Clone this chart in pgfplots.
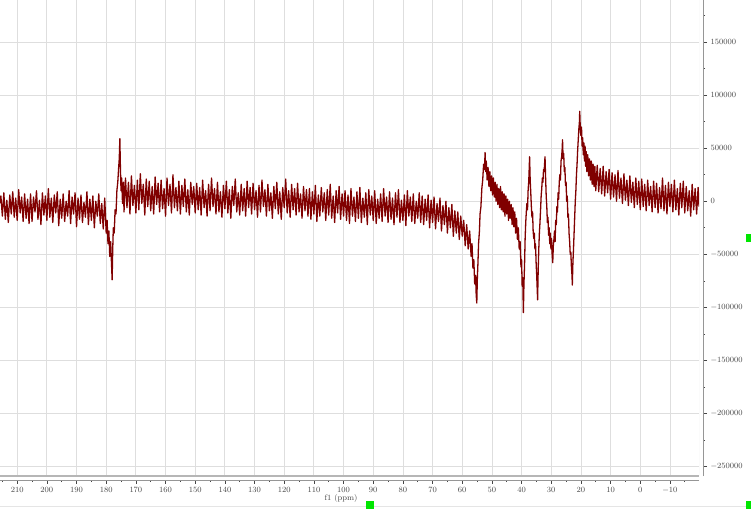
\documentclass[border=0pt]{standalone}
\usepackage{pgfplots}
\pgfplotsset{compat=1.18}
\definecolor{trace}{RGB}{128,0,0}
\definecolor{gridc}{RGB}{222,222,222}
\definecolor{axc}{RGB}{150,150,150}
\definecolor{lbl}{RGB}{70,70,70}
\definecolor{uigreen}{RGB}{0,230,0}
\begin{document}
\begin{tikzpicture}
% plot area with grid
\begin{axis}[at={(0pt,39pt)}, anchor=south west, scale only axis,
  width=699pt, height=476pt,
  xmin=-19.8, xmax=215.8, x dir=reverse, ymin=-259150, ymax=189900,
  xtick={-10,0,...,210}, ytick={-250000,-200000,...,150000},
  grid=major, major grid style={gridc, line width=0.8pt},
  axis line style={draw=none}, tick style={draw=none},
  xticklabels={}, yticklabels={}, scaled y ticks=false]
\addplot[trace, line width=1.3pt, line join=round] coordinates {
(215.8,-2000)(215.5,5000)(215.0,-14000)(214.5,8000)(214.0,-17000)(213.5,1000)(213.0,-20000)(212.5,6000)(212.0,-12000)
(211.5,9000)(211.0,-15000)(210.5,3000)(210.0,-18000)(209.5,11000)(209.0,-11000)(208.5,4000)(208.0,-19000)
(207.5,7000)(207.0,-16000)(206.5,2000)(206.0,-21000)(205.5,7000)(205.0,-19000)(204.5,4000)(204.0,-10000)
(203.5,10000)(203.0,-17000)(202.5,1000)(202.0,-22000)(201.5,8000)(201.0,-13000)(200.5,5000)(200.0,-18000)
(199.5,12000)(199.0,-15000)(198.5,3000)(198.0,-20000)(197.5,6000)(197.0,-11000)(196.5,9000)(196.0,-23000)
(195.5,2000)(195.0,-16000)(194.5,7000)(194.0,-19000)(193.5,0)(193.0,-14000)(192.5,10000)(192.0,-21000)
(191.5,4000)(191.0,-12000)(190.5,8000)(190.0,-24000)(189.5,3000)(189.0,-17000)(188.5,6000)(188.0,-20000)
(187.5,-1000)(187.0,-15000)(186.5,9000)(186.0,-22000)(185.5,2000)(185.0,-18000)(184.5,5000)(184.0,-25000)
(183.5,0)(183.0,-14000)(182.5,7000)(182.0,-21000)(181.5,-2000)(181.0,-26000)(180.5,3000)(180.0,-30000)
(179.7,-18000)(179.4,-40000)(179.1,-28000)(178.8,-52000)(178.5,-38000)(178.2,-60000)(178.0,-74000)
(177.8,-45000)(177.6,-25000)(177.3,-30000)(177.0,-8000)(176.7,-12000)(176.4,10000)(176.1,18000)
(175.8,32000)(175.6,40000)(175.4,59000)(175.2,30000)(175.0,10000)(174.8,22000)(174.5,-2000)(174.2,18000)
(174.0,-10000)(173.5,22000)(173.0,-6000)(172.5,18000)(172.0,-12000)(171.5,24000)(171.0,-4000)(170.5,15000)
(170.0,-11000)(169.5,20000)(169.0,-8000)(168.5,26000)(168.0,-2000)(167.5,16000)(167.0,-13000)(166.5,21000)
(166.0,-5000)(165.5,19000)(165.0,-9000)(164.5,14000)(164.0,-12000)(163.5,23000)(163.0,-3000)(162.5,17000)
(162.0,-10000)(161.5,20000)(161.0,-7000)(160.5,12000)(160.0,-14000)(159.5,22000)(159.0,-4000)(158.5,16000)
(158.0,-11000)(157.5,25000)(157.0,-6000)(156.5,13000)(156.0,-9000)(155.5,19000)(155.0,-12000)(154.5,15000)
(154.0,-5000)(153.5,21000)(153.0,-10000)(152.5,11000)(152.0,-13000)(151.5,18000)(151.0,-3000)(150.5,14000)
(150.0,-11000)(149.5,17000)(149.0,-8000)(148.5,13000)(148.0,-13000)(147.5,20000)(147.0,-6000)(146.5,10000)
(146.0,-14000)(145.5,16000)(145.0,-9000)(144.5,22000)(144.0,-5000)(143.5,12000)(143.0,-12000)(142.5,18000)
(142.0,-10000)(141.5,9000)(141.0,-15000)(140.5,15000)(140.0,-7000)(139.5,19000)(139.0,-11000)(138.5,11000)
(138.0,-16000)(137.5,14000)(137.0,-4000)(136.5,21000)(136.0,-10000)(135.5,8000)(135.0,-13000)(134.5,16000)
(134.0,-9000)(133.5,12000)(133.0,-14000)(132.5,19000)(132.0,-6000)(131.5,13000)(131.0,-12000)(130.5,17000)
(130.0,-8000)(129.5,10000)(129.0,-15000)(128.5,15000)(128.0,-10000)(127.5,20000)(127.0,-5000)(126.5,11000)
(126.0,-14000)(125.5,16000)(125.0,-9000)(124.5,8000)(124.0,-16000)(123.5,14000)(123.0,-7000)(122.5,18000)
(122.0,-12000)(121.5,9000)(121.0,-17000)(120.5,13000)(120.0,-6000)(119.5,21000)(119.0,-11000)(118.5,10000)
(118.0,-15000)(117.5,16000)(117.0,-8000)(116.5,12000)(116.0,-13000)(115.5,17000)(115.0,-10000)(114.5,7000)
(114.0,-16000)(113.5,14000)(113.0,-9000)(112.5,11000)(112.0,-14000)(111.5,12000)(111.0,-17000)(110.5,9000)
(110.0,-12000)(109.5,15000)(109.0,-19000)(108.5,6000)(108.0,-14000)(107.5,13000)(107.0,-10000)(106.5,8000)
(106.0,-18000)(105.5,11000)(105.0,-13000)(104.5,16000)(104.0,-16000)(103.5,5000)(103.0,-20000)(102.5,10000)
(102.0,-11000)(101.5,14000)(101.0,-17000)(100.5,7000)(100.0,-14000)(99.5,10000)(99.0,-18000)(98.5,6000)
(98.0,-21000)(97.5,12000)(97.0,-14000)(96.5,4000)(96.0,-19000)(95.5,9000)(95.0,-16000)(94.5,13000)
(94.0,-20000)(93.5,3000)(93.0,-15000)(92.5,8000)(92.0,-22000)(91.5,11000)(91.0,-13000)(90.5,5000)
(90.0,-18000)(89.5,10000)(89.0,-21000)(88.5,2000)(88.0,-16000)(87.5,7000)(87.0,-19000)(86.5,12000)
(86.0,-14000)(85.5,4000)(85.0,-20000)(84.5,9000)(84.0,-17000)(83.5,3000)(83.0,-22000)(82.5,8000)
(82.0,-15000)(81.5,11000)(81.0,-20000)(80.5,1000)(80.0,-18000)(79.5,6000)(79.0,-23000)(78.5,10000)
(78.0,-14000)(77.5,4000)(77.0,-19000)(76.5,7000)(76.0,-21000)(75.5,0)(75.0,-16000)(74.5,8000)
(74.0,-20000)(73.5,5000)(73.0,-22000)(72.5,2000)(72.0,-18000)(71.5,6000)(71.0,-25000)(70.5,1000)
(70.0,-20000)(69.5,4000)(69.0,-26000)(68.5,-2000)(68.0,-19000)(67.5,3000)(67.0,-28000)(66.5,-4000)
(66.0,-22000)(65.5,0)(65.0,-30000)(64.5,-6000)(64.0,-25000)(63.5,-3000)(63.0,-33000)(62.5,-9000)
(62.0,-30000)(61.5,-10000)(61.0,-36000)(60.5,-14000)(60.0,-33000)(59.5,-18000)(59.0,-42000)(58.5,-22000)
(58.0,-45000)(57.5,-28000)(57.0,-52000)(56.7,-40000)(56.4,-63000)(56.1,-55000)(55.8,-78000)(55.5,-70000)
(55.3,-88000)(55.1,-96000)(54.9,-72000)(54.7,-58000)(54.5,-40000)(54.2,-28000)(54.0,-12000)(53.7,-5000)
(53.4,12000)(53.1,20000)(52.8,35000)(52.5,30000)(52.3,46000)(52.1,28000)(51.9,38000)(51.6,20000)
(51.3,32000)(51.0,14000)(50.7,28000)(50.4,10000)(50.1,24000)(49.8,6000)(49.5,22000)(49.2,4000)
(48.9,18000)(48.6,0)(48.3,16000)(48.0,-3000)(47.7,12000)(47.4,-6000)(47.1,14000)(46.8,-8000)
(46.5,9000)(46.2,-10000)(45.9,7000)(45.6,-14000)(45.3,5000)(45.0,-12000)(44.7,2000)(44.4,-18000)
(44.1,0)(43.8,-16000)(43.5,-3000)(43.2,-22000)(42.9,-6000)(42.6,-24000)(42.3,-10000)(42.0,-30000)
(41.7,-16000)(41.4,-36000)(41.1,-25000)(40.8,-45000)(40.5,-38000)(40.2,-62000)(40.0,-55000)(39.8,-80000)
(39.6,-72000)(39.4,-105000)(39.2,-78000)(39.0,-60000)(38.8,-35000)(38.6,-20000)(38.4,-10000)(38.2,-2000)
(38.0,-8000)(37.8,10000)(37.6,18000)(37.5,25000)(37.3,42000)(37.1,20000)(36.9,8000)(36.7,-5000)
(36.5,-15000)(36.3,-10000)(36.1,-28000)(35.9,-35000)(35.7,-30000)(35.5,-45000)(35.3,-40000)(35.1,-58000)
(34.9,-70000)(34.7,-85000)(34.6,-93000)(34.4,-65000)(34.2,-45000)(34.0,-30000)(33.8,-20000)(33.6,-8000)
(33.4,5000)(33.2,12000)(33.0,22000)(32.8,18000)(32.6,30000)(32.4,28000)(32.1,42000)(31.9,22000)
(31.7,5000)(31.5,-5000)(31.3,-20000)(31.1,-15000)(30.9,-32000)(30.7,-25000)(30.5,-40000)(30.3,-30000)
(30.1,-45000)(29.9,-35000)(29.7,-50000)(29.5,-58000)(29.3,-42000)(29.1,-36000)(28.9,-28000)(28.7,-38000)
(28.5,-18000)(28.3,-22000)(28.1,-5000)(27.9,-10000)(27.7,8000)(27.5,2000)(27.3,18000)(27.1,25000)
(26.9,20000)(26.7,38000)(26.5,42000)(26.3,50000)(26.2,58000)(26.0,40000)(25.8,45000)(25.6,28000)
(25.4,32000)(25.2,15000)(25.0,18000)(24.8,0)(24.6,5000)(24.4,-15000)(24.2,-12000)(24.0,-30000)
(23.8,-38000)(23.6,-50000)(23.4,-48000)(23.2,-62000)(23.0,-70000)(22.9,-79000)(22.7,-58000)(22.5,-45000)
(22.3,-30000)(22.1,-15000)(21.9,0)(21.7,10000)(21.5,25000)(21.3,35000)(21.1,48000)(20.9,58000)
(20.7,68000)(20.5,75000)(20.4,85000)(20.2,68000)(20.0,62000)(19.8,70000)(19.6,52000)(19.4,60000)
(19.2,44000)(19.0,55000)(18.8,38000)(18.6,52000)(18.4,33000)(18.2,47000)(18.0,28000)(17.7,44000)
(17.4,24000)(17.1,40000)(16.8,20000)(16.5,38000)(16.2,16000)(15.9,35000)(15.6,14000)(15.3,33000)
(15.0,10000)(14.5,34000)(14.0,9000)(13.5,31000)(13.0,7000)(12.5,33000)(12.0,5000)(11.5,28000)
(11.0,8000)(10.5,30000)(10.0,2000)(9.5,27000)(9.0,4000)(8.5,25000)(8.0,0)(7.5,29000)
(7.0,3000)(6.5,22000)(6.0,-2000)(5.5,26000)(5.0,1000)(4.5,20000)(4.0,-4000)(3.5,24000)
(3.0,-1000)(2.5,18000)(2.0,-6000)(1.5,22000)(1.0,-3000)(0.5,19000)(0.0,-8000)(-0.5,21000)
(-1.0,-5000)(-1.5,16000)(-2.0,-9000)(-2.5,20000)(-3.0,-4000)(-3.5,14000)(-4.0,-10000)(-4.5,19000)
(-5.0,-6000)(-5.5,17000)(-6.0,-11000)(-6.5,13000)(-7.0,-7000)(-7.5,22000)(-8.0,-9000)(-8.5,15000)
(-9.0,-12000)(-9.5,18000)(-10.0,-5000)(-10.5,16000)(-11.0,-10000)(-11.5,20000)(-12.0,-8000)(-12.5,12000)
(-13.0,-13000)(-13.5,17000)(-14.0,-6000)(-14.5,19000)(-15.0,-11000)(-15.5,14000)(-16.0,-9000)(-16.5,10000)
(-17.0,-14000)(-17.5,16000)(-18.0,-8000)(-18.5,12000)(-19.0,-12000)(-19.5,13000)(-19.8,-5000)
};
\draw[axc!70, line width=1.3pt] (rel axis cs:0,0) -- (rel axis cs:1,0);
\draw[gridc, line width=0.8pt] (rel axis cs:1,0) -- (rel axis cs:1,1);
\end{axis}
% bottom tick axis
\begin{axis}[at={(0pt,35pt)}, anchor=south west, scale only axis,
  width=699pt, height=10pt,
  xmin=-19.8, xmax=215.8, x dir=reverse, ymin=0, ymax=1,
  axis x line=bottom, axis y line=none,
  x axis line style={-, axc, line width=0.8pt},
  xtick={-10,0,...,210}, minor xtick={-15,-5,...,215},
  tick align=outside, major tick length=3.5pt, minor tick length=2pt,
  tick style={lbl, line width=0.6pt},
  xticklabel style={font=\fontsize{8}{9}\selectfont, text=lbl}]
\end{axis}
% right value axis
\begin{axis}[at={(653pt,39pt)}, anchor=south west, scale only axis,
  width=50pt, height=476pt,
  xmin=0, xmax=1, ymin=-259150, ymax=189900,
  axis y line=right, axis x line=none,
  y axis line style={-, axc, line width=1pt},
  ytick={-250000,-200000,...,150000}, minor ytick={-225000,-175000,...,175000},
  tick align=outside, major tick length=4pt, minor tick length=2pt,
  tick style={lbl, line width=0.6pt}, scaled y ticks=false,
  /pgf/number format/fixed, /pgf/number format/1000 sep={},
  yticklabel style={font=\fontsize{8}{9}\selectfont, text=lbl}]
\end{axis}
\node[font=\fontsize{8}{9}\selectfont, text=lbl] at (341pt,17pt) {f1 (ppm)};
\draw[black!10] (0pt,9.3pt) -- (751pt,9.3pt);
\fill[uigreen] (366pt,6pt) rectangle (374pt,14pt);
\fill[uigreen] (746pt,273pt) rectangle (751pt,281pt);
\fill[uigreen] (746pt,6pt) rectangle (751pt,14pt);
\pgfresetboundingbox
\useasboundingbox (0pt,0pt) rectangle (751pt,515pt);
\end{tikzpicture}
\end{document}
